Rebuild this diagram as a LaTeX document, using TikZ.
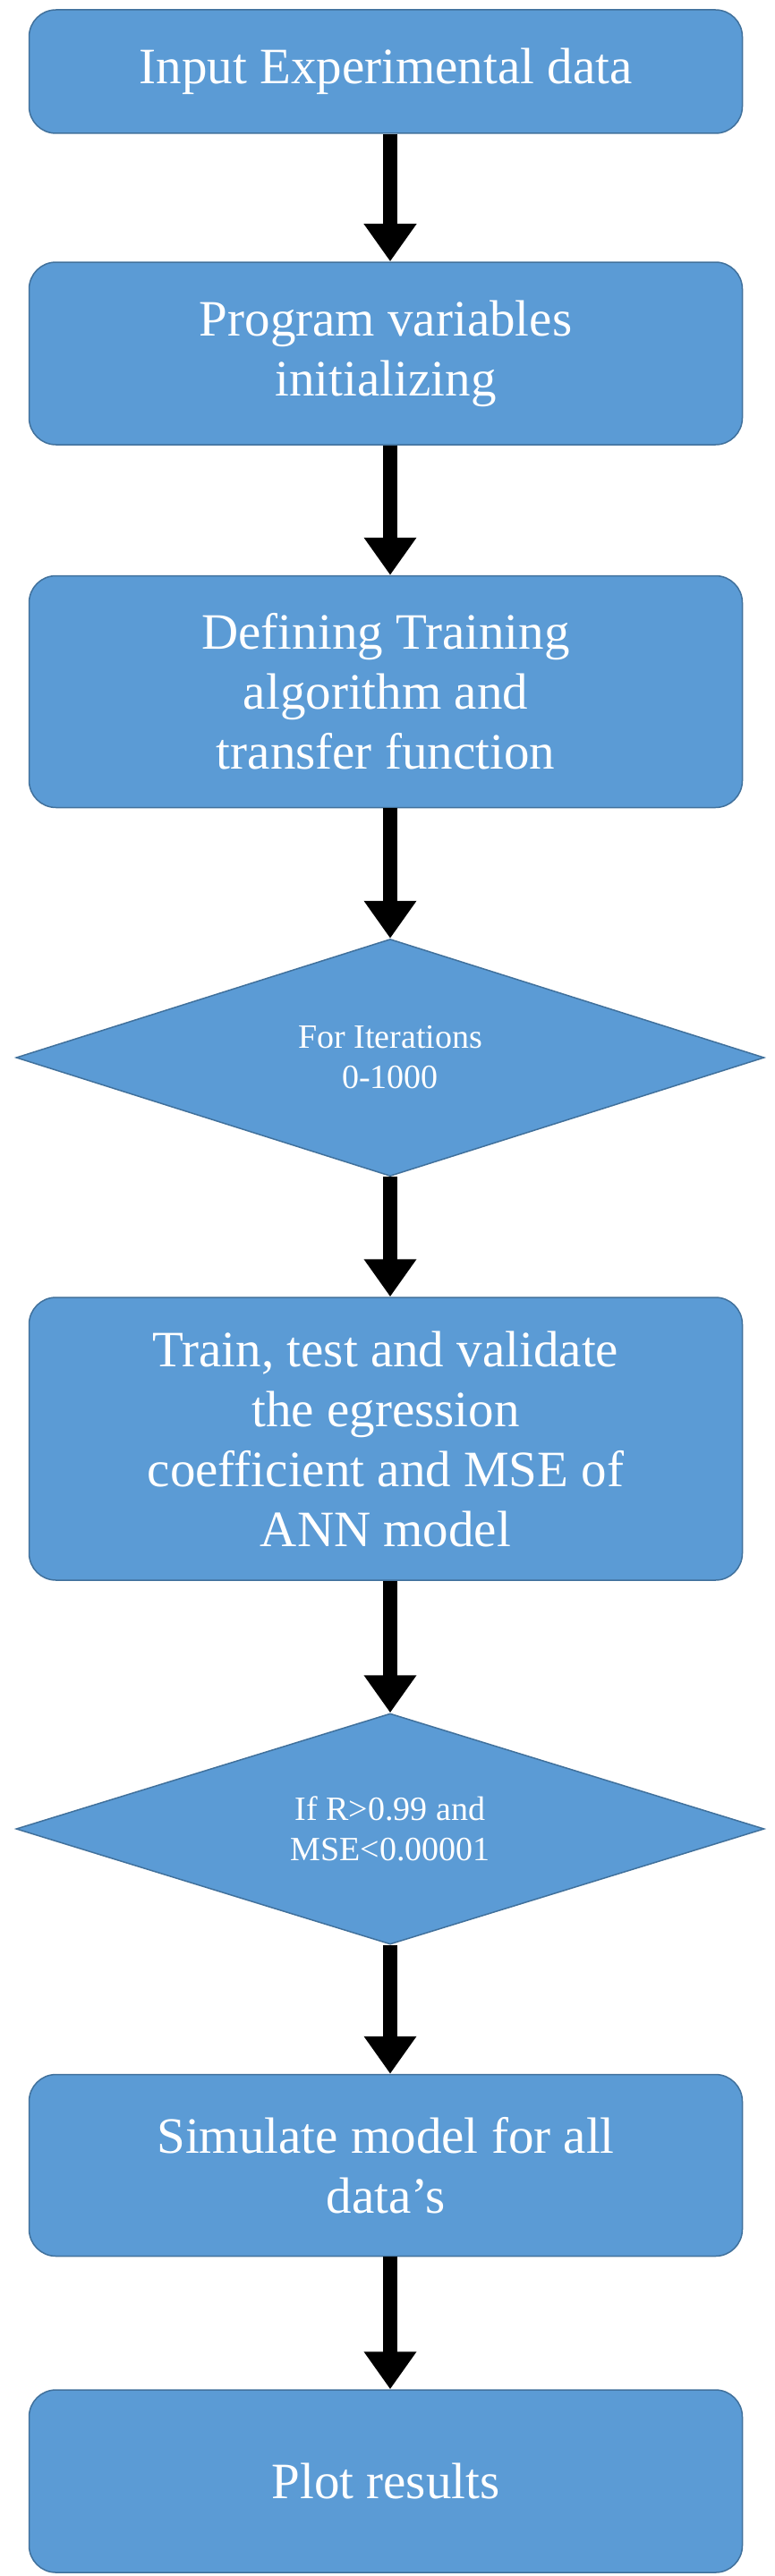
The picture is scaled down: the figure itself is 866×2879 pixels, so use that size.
\documentclass[tikz,border=0pt]{standalone}
\usepackage{fontspec}
\setmainfont{Liberation Serif}
\usetikzlibrary{shapes.geometric,arrows.meta}
\definecolor{boxblue}{HTML}{5B9BD5}
\definecolor{boxedge}{HTML}{41719C}
\begin{document}
\begin{tikzpicture}[x=1pt,y=-1pt,
  box/.style={draw=boxedge,line width=1.5pt,fill=boxblue,rounded corners=30pt,minimum width=797pt,text=white,align=center,inner sep=0pt,font=\fontsize{57}{67}\selectfont},
  dia/.style={diamond,draw=boxedge,line width=1.5pt,fill=boxblue,aspect=3.15,minimum width=836pt,text=white,align=center,inner sep=0pt,font=\fontsize{38}{45}\selectfont},
  arr/.style={line width=16pt,-{Triangle[width=56pt,length=42pt]},black}]
\useasboundingbox (0,0) rectangle (866,2879);
\node[box,minimum height=138pt] (b1) at (431,80) {Input Experimental data};
\node[box,minimum height=204pt] (b2) at (431,395) {Program variables\\initializing};
\node[box,minimum height=259pt] (b3) at (431,773) {Defining Training\\algorithm and\\transfer function};
\node[dia,minimum height=265pt] (d1) at (436,1182) {For Iterations\\0-1000};
\node[box,minimum height=316pt] (b4) at (431,1608) {Train, test and validate\\the egression\\coefficient and MSE of\\ANN model};
\node[dia,minimum height=258pt] (d2) at (436,2044) {If R>0.99 and\\MSE<0.00001};
\node[box,minimum height=203pt] (b5) at (431,2420) {Simulate model for all\\data’s};
\node[box,minimum height=204pt] (b6) at (431,2773) {Plot results};
\draw[arr] (b1.south) ++(5,0) coordinate (s1) -- (s1 |- b2.north);
\draw[arr] (b2.south) ++(5,0) coordinate (s2) -- (s2 |- b3.north);
\draw[arr] (b3.south) ++(5,0) coordinate (s3) -- (s3 |- d1.north);
\draw[arr] (d1.south) coordinate (s4) -- (s4 |- b4.north);
\draw[arr] (b4.south) ++(5,0) coordinate (s5) -- (s5 |- d2.north);
\draw[arr] (d2.south) coordinate (s6) -- (s6 |- b5.north);
\draw[arr] (b5.south) ++(5,0) coordinate (s7) -- (s7 |- b6.north);
\end{tikzpicture}
\end{document}
